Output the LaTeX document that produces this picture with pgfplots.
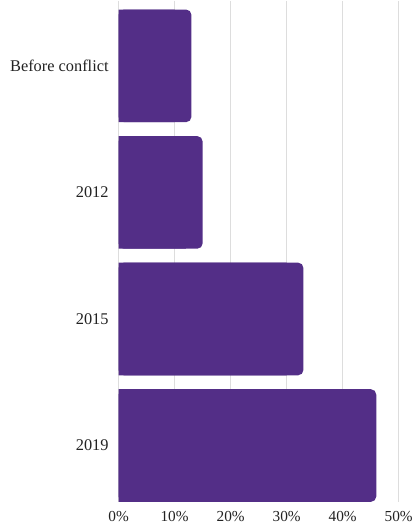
\documentclass[border=0pt]{standalone}
\usepackage{pgfplots}
\pgfplotsset{compat=1.18}
\usepackage{pgfplotstable}
\usepackage{fontspec}
\setmainfont{Liberation Serif}
\definecolor{barc}{HTML}{532E87}
\definecolor{gridc}{HTML}{DDDDDD}
\definecolor{txt}{HTML}{222222}
\pgfplotstableread{
v y
13 0
15 1
33 2
46 3
}\datatable
\begin{document}
\begin{tikzpicture}
\begin{axis}[
  scale only axis, width=210.75pt, height=377.25pt,
  xmin=0, xmax=50, ymin=-0.516, ymax=3.445,
  y dir=reverse,
  xbar, bar shift=0pt, bar width=0.89,
  axis line style={draw=none},
  xmajorgrids, grid style={gridc, line width=0.8pt},
  xtick={0,10,20,30,40,50},
  xticklabel={\pgfmathprintnumber{\tick}\%},
  ytick={0,1,2,3},
  yticklabels={Before conflict,2012,2015,2019},
  major tick length=0pt,
  tick label style={text=txt},
  xticklabel style={yshift=-3.5pt, font=\fontsize{11.5pt}{13pt}\selectfont},
  yticklabel style={xshift=-4pt, font=\fontsize{12.3pt}{14pt}\selectfont},
  /pgf/number format/assume math mode=true,
  clip=false,
]
\addplot[fill=barc, draw=none, rounded corners=4pt] table[x=v, y=y]{\datatable};
\addplot[fill=barc, draw=none] table[x expr=\thisrow{v}-3, y=y]{\datatable};
\end{axis}
\path ([xshift=-89.25pt,yshift=-17.25pt]current axis.south west) rectangle ([xshift=10.5pt]current axis.north east);
\end{tikzpicture}
\end{document}
